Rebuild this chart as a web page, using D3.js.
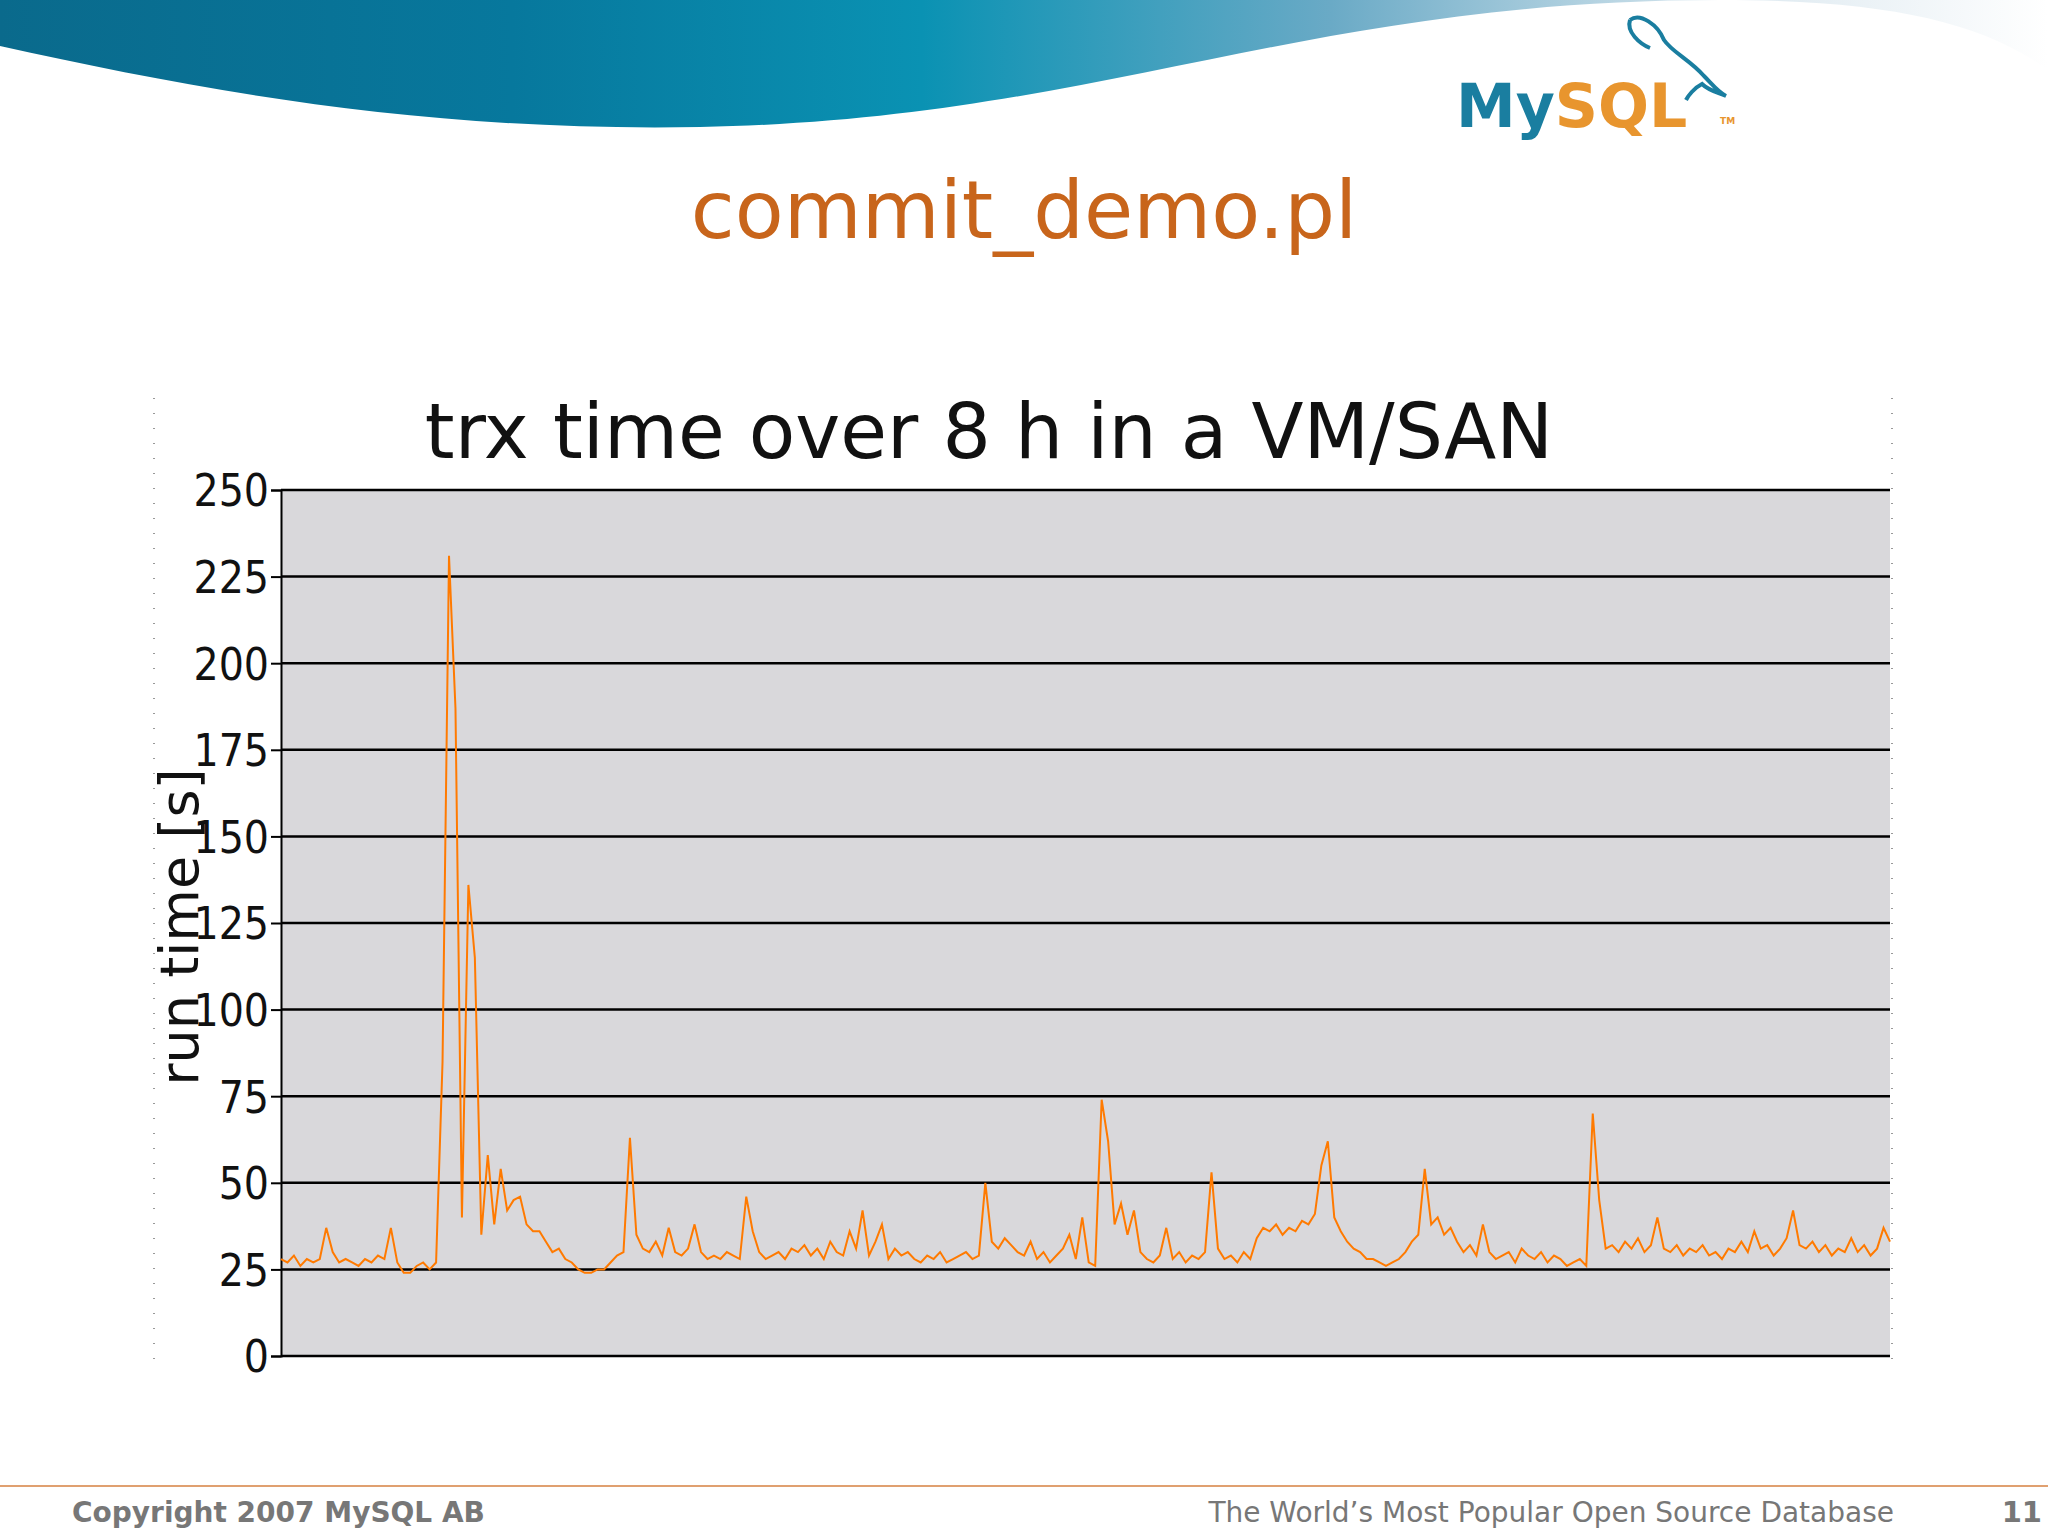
<!DOCTYPE html>
<html>
<head>
<meta charset="utf-8">
<script src="https://cdn.jsdelivr.net/npm/d3@7"></script>
<style>
  body { margin: 0; background: #fff; }
  svg { display: block; }
</style>
</head>
<body>
<script>
// run time per sample over 8 h (seconds)
const runTime = [
  28,27,29,26,28,27,28,37,30,27,
  28,27,26,28,27,29,28,37,27,24,
  24,26,27,25,27,85,231,187,40,136,
  115,35,58,38,54,42,45,46,38,36,
  36,33,30,31,28,27,25,24,24,25,
  25,27,29,30,63,35,31,30,33,29,
  37,30,29,31,38,30,28,29,28,30,
  29,28,46,36,30,28,29,30,28,31,
  30,32,29,31,28,33,30,29,36,31,
  42,29,33,38,28,31,29,30,28,27,
  29,28,30,27,28,29,30,28,29,50,
  33,31,34,32,30,29,33,28,30,27,
  29,31,35,28,40,27,26,74,62,38,
  44,35,42,30,28,27,29,37,28,30,
  27,29,28,30,53,31,28,29,27,30,
  28,34,37,36,38,35,37,36,39,38,
  41,55,62,40,36,33,31,30,28,28,
  27,26,27,28,30,33,35,54,38,40,
  35,37,33,30,32,29,38,30,28,29,
  30,27,31,29,28,30,27,29,28,26,
  27,28,26,70,45,31,32,30,33,31,
  34,30,32,40,31,30,32,29,31,30,
  32,29,30,28,31,30,33,30,36,31,
  32,29,31,34,42,32,31,33,30,32,
  29,31,30,34,30,32,29,31,37,33
];
const yTicks = [0, 25, 50, 75, 100, 125, 150, 175, 200, 225, 250];

const W = 2048, H = 1536;
const svg = d3.select("body").append("svg").attr("width", W).attr("height", H);

// header wave
const defs = svg.append("defs");
const g1 = defs.append("linearGradient").attr("id", "wave");
g1.append("stop").attr("offset", "0%").attr("stop-color", "#0a6a8c");
g1.append("stop").attr("offset", "25%").attr("stop-color", "#07789d");
g1.append("stop").attr("offset", "45%").attr("stop-color", "#0a92b3");
g1.append("stop").attr("offset", "65%").attr("stop-color", "#6aaac6");
g1.append("stop").attr("offset", "85%").attr("stop-color", "#dde9f0");
g1.append("stop").attr("offset", "100%").attr("stop-color", "#ffffff");
svg.append("path")
  .attr("d", "M0,0 L2048,0 L2048,70 C1980,20 1880,0 1720,0 C1300,0 1100,120 700,127 C420,132 200,90 0,46 Z")
  .attr("fill", "url(#wave)");

// MySQL logo
const logo = svg.append("g").attr("font-family", "DejaVu Sans, sans-serif").attr("font-weight", "bold");
logo.append("text").attr("x", 1456).attr("y", 127).attr("font-size", 60).attr("fill", "#1a7ea0")
  .text("My").append("tspan").attr("fill", "#e8952e").text("SQL");
logo.append("text").attr("x", 1720).attr("y", 124).attr("font-size", 9).attr("fill", "#e8952e").text("TM");
logo.append("path")
  .attr("d", "M1630,20 C1640,12 1658,25 1664,40 C1672,52 1690,60 1704,76 C1712,84 1718,92 1726,96 C1716,92 1708,90 1702,84 C1694,88 1688,96 1686,100 M1630,20 C1626,32 1640,44 1650,48")
  .attr("fill", "none").attr("stroke", "#1a7ea0").attr("stroke-width", 4);

// slide heading
svg.append("text").attr("x", 1024).attr("y", 238).attr("text-anchor", "middle")
  .attr("font-family", "DejaVu Sans, sans-serif").attr("font-size", 80).attr("fill", "#c8651b")
  .text("commit_demo.pl");

// chart
const margin = { left: 281, right: 1890, top: 490, bottom: 1356 };
const x = d3.scaleLinear().domain([0, runTime.length - 1]).range([margin.left, margin.right]);
const y = d3.scaleLinear().domain([0, 250]).range([margin.bottom, margin.top]);

// dotted frame edges
[154, 1892].forEach(fx => {
  svg.append("line").attr("x1", fx).attr("x2", fx).attr("y1", 398).attr("y2", 1366)
    .attr("stroke", "#999").attr("stroke-width", 2).attr("stroke-dasharray", "1,14");
});

svg.append("rect").attr("x", margin.left).attr("y", margin.top)
  .attr("width", margin.right - margin.left).attr("height", margin.bottom - margin.top)
  .attr("fill", "#d9d8db");

svg.append("g").selectAll("line").data(yTicks).join("line")
  .attr("x1", margin.left).attr("x2", margin.right)
  .attr("y1", d => y(d)).attr("y2", d => y(d))
  .attr("stroke", "#000").attr("stroke-width", 2.5);

const yAxis = svg.append("g").attr("transform", `translate(${margin.left},0)`)
  .call(d3.axisLeft(y).tickValues(yTicks).tickSize(10).tickPadding(2));
yAxis.select(".domain").attr("stroke", "#000").attr("stroke-width", 2);
yAxis.selectAll(".tick line").attr("stroke", "#000").attr("stroke-width", 2);
yAxis.selectAll("text").attr("font-family", "DejaVu Sans Condensed, DejaVu Sans, sans-serif")
  .attr("font-size", 44).attr("fill", "#111").attr("dy", "0.36em");

svg.append("path").datum(runTime)
  .attr("d", d3.line().x((d, i) => x(i)).y(d => y(d)))
  .attr("fill", "none").attr("stroke", "#ff7a00").attr("stroke-width", 2);

svg.append("text").attr("x", 989).attr("y", 458).attr("text-anchor", "middle")
  .attr("font-family", "DejaVu Sans, sans-serif").attr("font-size", 76).attr("fill", "#111")
  .text("trx time over 8 h in a VM/SAN");

svg.append("text").attr("transform", "translate(198,927) rotate(-90)").attr("text-anchor", "middle")
  .attr("font-family", "DejaVu Sans, sans-serif").attr("font-size", 54).attr("fill", "#111")
  .text("run time [s]");

// footer
svg.append("line").attr("x1", 0).attr("x2", W).attr("y1", 1486).attr("y2", 1486)
  .attr("stroke", "#e0a070").attr("stroke-width", 2);
const foot = svg.append("g").attr("font-family", "DejaVu Sans, sans-serif").attr("font-size", 29).attr("fill", "#777");
foot.append("text").attr("x", 72).attr("y", 1522).attr("font-weight", "bold").attr("font-size", 28).text("Copyright 2007 MySQL AB");
foot.append("text").attr("x", 1894).attr("y", 1522).attr("text-anchor", "end").attr("font-size", 28).text("The World’s Most Popular Open Source Database");
foot.append("text").attr("x", 2042).attr("y", 1522).attr("text-anchor", "end").attr("font-weight", "bold").text("11");
</script>
</body>
</html>
